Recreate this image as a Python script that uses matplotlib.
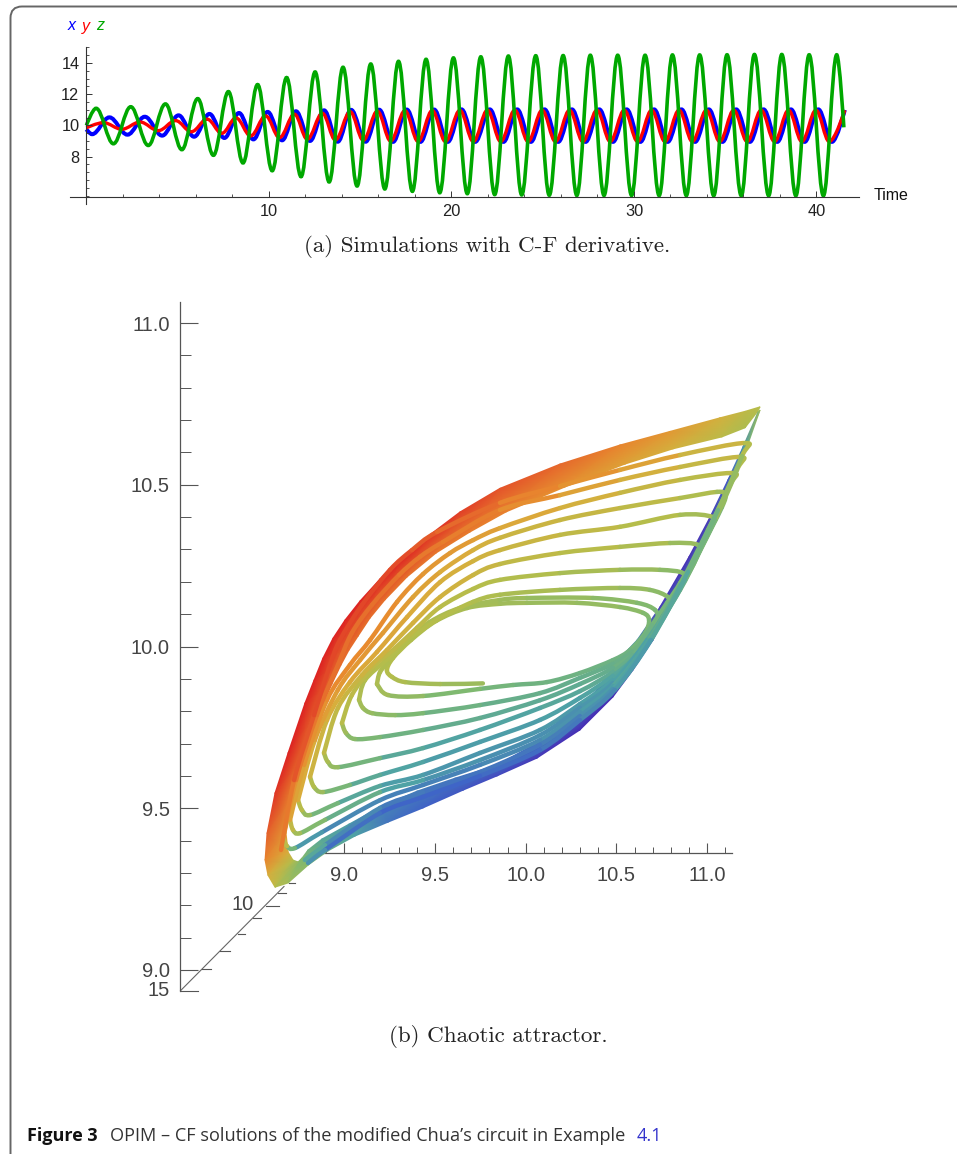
import matplotlib
matplotlib.use("Agg")
import matplotlib.pyplot as plt
import numpy as np
from matplotlib.collections import PathCollection
from matplotlib.colors import LinearSegmentedColormap, Normalize
from matplotlib.patches import PathPatch
from matplotlib.path import Path

plt.rcParams['font.family'] = ['Liberation Sans', 'DejaVu Sans']

# (a) extrema of the three time series
t_x = [0, .31, 1.26, 2.25, 3.2, 4.15, 5.05, 5.9, 6.74, 7.56, 8.36, 9.15, 9.93, 10.72, 11.48, 12.25, 13.02, 13.77, 14.5,
       15.3, 16.04, 16.8, 17.55, 18.3, 19.05, 19.8, 20.55, 21.3, 22.1, 22.85, 23.6, 24.35, 25.1, 25.85, 26.6, 27.35,
       28.1, 28.85, 29.6, 30.35, 31.1, 31.85, 32.6, 33.35, 34.1, 34.85, 35.6, 36.35, 37.1, 37.85, 38.6, 39.35, 40.1,
       40.85, 41.55]
v_x = [9.75, 9.44, 10.52, 9.41, 10.56, 9.35, 10.65, 9.28, 10.74, 9.2, 10.8, 9.11, 10.87, 9.05, 10.91, 9.01, 10.97, 8.96,
       11.0, 8.96, 11.01, 8.95, 11.02, 8.95, 11.02, 8.95, 11.03, 8.95, 11.03, 8.95, 11.03, 8.95, 11.03, 8.95, 11.03,
       8.95, 11.03, 8.95, 11.03, 8.95, 11.03, 8.95, 11.03, 8.95, 11.03, 8.95, 11.03, 8.95, 11.03, 8.95, 11.03, 8.95,
       11.03, 8.95, 11.0]
t_y = [0, .93, 1.94, 2.94, 3.94, 4.89, 5.75, 6.62, 7.42, 8.2, 9.0, 9.82, 10.58, 11.4, 12.1, 12.93, 13.64, 14.45, 15.17,
       15.94, 16.67, 17.45, 18.17, 18.95, 19.67, 20.46, 21.2, 21.97, 22.7, 23.47, 24.2, 24.97, 25.7, 26.47, 27.2, 27.97,
       28.7, 29.47, 30.2, 30.97, 31.7, 32.47, 33.2, 33.97, 34.7, 35.47, 36.2, 36.97, 37.7, 38.47, 39.2, 39.97, 40.7,
       41.55]
v_y = [9.85, 10.18, 9.76, 10.22, 9.67, 10.31, 9.6, 10.4, 9.5, 10.48, 9.33, 10.61, 9.22, 10.72, 9.12, 10.78, 9.07, 10.88,
       9.05, 10.92, 9.0, 10.95, 8.98, 10.96, 8.97, 10.97, 8.97, 10.98, 8.97, 10.98, 8.97, 10.98, 8.97, 10.98, 8.97,
       10.98, 8.97, 10.98, 8.97, 10.98, 8.97, 10.98, 8.97, 10.98, 8.97, 10.98, 8.97, 10.98, 8.97, 10.98, 8.97, 10.98,
       8.97, 10.98]
t_z = [0, .53, 1.48, 2.43, 3.39, 4.33, 5.23, 6.1, 6.96, 7.78, 8.58, 9.38, 10.18, 10.97, 11.76, 12.53, 13.3, 14.06, 14.83,
       15.58, 16.35, 17.1, 17.86, 18.61, 19.36, 20.11, 20.87, 21.61, 22.37, 23.12, 23.85, 24.62, 25.36, 26.12, 26.87,
       27.61, 28.36, 29.11, 29.87, 30.61, 31.38, 32.11, 32.87, 33.6, 34.37, 35.1, 35.88, 36.6, 37.38, 38.1, 38.87, 39.6,
       40.38, 41.11, 41.5]
v_z = [10, 11.1, 8.83, 11.2, 8.72, 11.38, 8.45, 11.72, 8.09, 12.17, 7.6, 12.62, 7.1, 13.07, 6.72, 13.43, 6.38, 13.73,
       6.12, 13.94, 5.93, 14.11, 5.78, 14.24, 5.69, 14.33, 5.63, 14.4, 5.57, 14.45, 5.55, 14.47, 5.53, 14.48, 5.52, 14.5,
       5.52, 14.5, 5.52, 14.5, 5.51, 14.52, 5.51, 14.52, 5.5, 14.53, 5.5, 14.55, 5.5, 14.55, 5.5, 14.53, 5.5, 14.53, 9.88]

# (b) single revolutions of the trajectory: x, y and the colour value along it
s1_x = [9.764, 9.528, 9.335, 9.263, 9.235, 9.268, 9.368, 9.506, 9.677, 9.858, 10.007, 10.283, 10.520, 10.647, 10.680,
        10.658, 10.575, 10.481, 10.299, 10.117, 9.930, 9.748, 9.434, 9.241, 9.180]
s1_y = [9.886, 9.884, 9.890, 9.906, 9.927, 9.964, 10.020, 10.079, 10.119, 10.132, 10.135, 10.135, 10.122, 10.104, 10.082,
        10.042, 9.989, 9.958, 9.918, 9.890, 9.881, 9.869, 9.847, 9.850, 9.884]
s1_c = [.52, .54, .57, .59, .6, .6, .59, .58, .56, .55, .53, .52, .5, .47, .45, .43, .41, .4, .4, .4, .41, .43, .47, .53, .57]
s2_x = [9.180, 9.197, 9.252, 9.346, 9.472, 9.638, 9.858, 10.007, 10.371, 10.614, 10.713, 10.724, 10.674, 10.586, 10.481,
        10.299, 10.079, 9.748, 9.434, 9.280, 9.153, 9.103, 9.081]
s2_y = [9.884, 9.921, 9.958, 10.020, 10.076, 10.119, 10.144, 10.150, 10.150, 10.135, 10.113, 10.082, 10.029, 9.983, 9.946,
        9.903, 9.856, 9.819, 9.794, 9.788, 9.794, 9.810, 9.835]
s2_c = [.57, .58, .59, .59, .58, .56, .54, .53, .5, .47, .45, .43, .41, .39, .38, .37, .37, .38, .42, .47, .5, .53, .57]
s3_x = [9.081, 9.114, 9.230, 9.335, 9.428, 9.528, 9.710, 9.858, 10.189, 10.520, 10.685, 10.784, 10.790, 10.740, 10.630,
        10.481, 10.299, 10.079, 9.748, 9.434, 9.197, 9.059, 9.009, 8.987]
s3_y = [9.835, 9.896, 9.958, 10.017, 10.051, 10.088, 10.138, 10.160, 10.175, 10.181, 10.175, 10.153, 10.126, 10.076, 9.995,
        9.934, 9.884, 9.834, 9.779, 9.742, 9.720, 9.714, 9.733, 9.763]
s3_c = [.57, .59, .6, .6, .6, .6, .59, .58, .56, .53, .5, .47, .45, .43, .41, .38, .36, .35, .35, .38, .42, .46, .5, .58]
s4_x = [8.987, 9.042, 9.153, 9.280, 9.401, 9.528, 9.710, 9.858, 10.189, 10.520, 10.740, 10.867, 10.851, 10.779, 10.696,
        10.591, 10.481, 10.299, 10.079, 9.748, 9.434, 9.197, 8.965, 8.910, 8.888]
s4_y = [9.763, 9.850, 9.934, 9.995, 10.058, 10.122, 10.178, 10.206, 10.227, 10.237, 10.237, 10.227, 10.196, 10.135, 10.066,
        9.974, 9.921, 9.862, 9.810, 9.742, 9.686, 9.655, 9.627, 9.643, 9.671]
s4_c = [.6, .62, .63, .63, .63, .62, .6, .6, .58, .55, .5, .47, .45, .43, .41, .39, .36, .34, .32, .3, .32, .35, .48, .54, .6]
s5_x = [8.888, 8.965, 9.098, 9.235, 9.379, 9.528, 9.710, 9.858, 10.189, 10.520, 10.796, 10.950, 10.944, 10.851, 10.740,
        10.613, 10.481, 10.299, 10.079, 9.748, 9.434, 9.197, 9.031, 8.882, 8.833, 8.811]
s5_y = [9.671, 9.810, 9.912, 9.989, 10.073, 10.153, 10.221, 10.255, 10.289, 10.308, 10.320, 10.314, 10.277, 10.175, 10.076,
        9.974, 9.909, 9.841, 9.773, 9.705, 9.643, 9.603, 9.572, 9.550, 9.566, 9.597]
s5_c = [.62, .65, .68, .69, .7, .7, .68, .65, .62, .6, .55, .5, .45, .4, .37, .34, .32, .3, .29, .28, .29, .32, .36, .5, .56, .62]
s6_x = [8.811, 8.905, 9.031, 9.180, 9.346, 9.528, 9.710, 9.858, 10.189, 10.520, 10.851, 11.033, 11.022, 10.917, 10.796,
        10.658, 10.481, 10.299, 10.079, 9.748, 9.434, 9.197, 8.965, 8.811, 8.767, 8.745]
s6_y = [9.597, 9.773, 9.890, 9.983, 10.091, 10.199, 10.264, 10.298, 10.345, 10.370, 10.407, 10.400, 10.370, 10.252, 10.129,
        10.005, 9.896, 9.822, 9.742, 9.671, 9.603, 9.569, 9.516, 9.479, 9.494, 9.525]
s6_c = [.66, .7, .73, .74, .74, .72, .7, .68, .65, .62, .58, .53, .48, .42, .37, .33, .3, .28, .27, .26, .27, .3, .36, .48, .56, .66]
s7_x = [8.745, 8.838, 8.965, 9.087, 9.213, 9.379, 9.528, 9.710, 9.858, 10.189, 10.520, 10.851, 11.055, 11.099, 11.082,
        10.961, 10.823, 10.669, 10.481, 10.299, 10.079, 9.748, 9.434, 9.197, 8.894, 8.756, 8.717, 8.701]
s7_y = [9.525, 9.711, 9.866, 9.958, 10.042, 10.153, 10.230, 10.298, 10.336, 10.391, 10.428, 10.459, 10.478, 10.469, 10.431,
        10.298, 10.153, 10.020, 9.887, 9.810, 9.726, 9.649, 9.587, 9.550, 9.464, 9.423, 9.433, 9.464]
s7_c = [.7, .75, .78, .78, .78, .76, .74, .72, .68, .66, .65, .6, .57, .52, .46, .4, .35, .31, .28, .25, .24, .25, .27, .33, .42, .5,
        .6, .68]
s8_x = [8.701, 8.778, 8.905, 9.031, 9.142, 9.291, 9.434, 9.583, 9.710, 9.858, 10.189, 10.520, 10.851, 11.143, 11.126,
        11.005, 10.851, 10.680, 10.481, 10.299, 10.079, 9.748, 9.434, 9.197, 8.877, 8.728, 8.684, 8.662]
s8_y = [9.464, 9.634, 9.835, 9.943, 10.020, 10.138, 10.224, 10.289, 10.329, 10.366, 10.428, 10.475, 10.515, 10.536, 10.499,
        10.360, 10.190, 10.020, 9.878, 9.798, 9.711, 9.634, 9.572, 9.525, 9.426, 9.377, 9.383, 9.411]
s8_c = [.72, .78, .82, .82, .82, .81, .79, .78, .77, .75, .72, .68, .63, .6, .55, .48, .4, .35, .3, .27, .24, .22, .2, .21, .24, .3,
        .55, .7]
s9_x = [8.662, 8.734, 8.849, 8.965, 9.042, 9.153, 9.302, 9.417, 9.544, 9.858, 10.189, 10.520, 10.851, 11.182, 11.165,
        11.044, 10.879, 10.685, 10.481, 10.299, 10.079, 9.748, 9.434, 9.197, 8.894, 8.783]
s9_y = [9.411, 9.587, 9.788, 9.943, 10.042, 10.129, 10.221, 10.277, 10.323, 10.422, 10.468, 10.515, 10.555, 10.586, 10.546,
        10.391, 10.206, 10.020, 9.869, 9.785, 9.696, 9.612, 9.550, 9.501, 9.386, 9.340]
s9_c = [.76, .84, .87, .87, .87, .87, .86, .85, .85, .83, .78, .72, .68, .62, .56, .48, .38, .33, .28, .22, .18, .17, .17, .2, .26, .4]
s10_x = [8.651, 8.723, 8.833, 8.921, 8.976, 9.098, 9.252, 9.373, 9.511, 9.858, 10.189, 10.520, 10.851, 11.209, 11.193,
         11.060, 10.895, 10.691, 10.492, 10.299, 10.079, 9.748, 9.434, 9.197, 8.894, 8.800]
s10_y = [9.371, 9.587, 9.788, 9.943, 10.020, 10.129, 10.237, 10.298, 10.354, 10.444, 10.496, 10.546, 10.592, 10.629, 10.589,
         10.422, 10.231, 10.020, 9.866, 9.773, 9.680, 9.600, 9.535, 9.485, 9.371, 9.331]
s10_c = [.8, .9, .93, .94, .94, .94, .94, .92, .9, .85, .81, .78, .72, .63, .56, .46, .36, .3, .26, .2, .16, .13, .12, .13, .18, .32]

# (b) the densely filled outer ribbon: outer and inner edge with colour values
rib_out_x = [11.292, 11.209, 11.071, 10.796, 10.520, 10.189, 9.858, 9.638, 9.456, 9.307, 9.197, 9.087, 9.004, 8.938, 8.882,
             8.833, 8.783, 8.690, 8.618, 8.574, 8.563, 8.579, 8.618, 8.690, 8.800, 8.910, 9.059, 9.241, 9.434, 9.655, 9.842,
             10.062, 10.299, 10.481, 10.591, 10.702, 10.796, 10.945, 11.055, 11.143, 11.220, 11.292]
rib_out_y = [10.741, 10.727, 10.707, 10.665, 10.623, 10.564, 10.489, 10.416, 10.339, 10.267, 10.209, 10.141, 10.082, 10.026,
             9.964, 9.896, 9.825, 9.671, 9.547, 9.423, 9.340, 9.293, 9.256, 9.269, 9.324, 9.368, 9.414, 9.457, 9.501, 9.556,
             9.600, 9.655, 9.742, 9.844, 9.927, 10.020, 10.122, 10.277, 10.400, 10.515, 10.617, 10.731]
rib_out_c = [.6, .63, .7, .78, .83, .88, .92, .95, .98, 1, 1, 1, 1, 1, 1, 1, 1, 1, .97, .9, .83, .72, .62, .55, .48, .38, .3, .17,
             .12, .1, .08, .05, .03, .03, .03, .05, .18, .22, .25, .3, .4, .55]
rib_in_x = [11.281, 11.209, 11.082, 10.812, 10.548, 10.216, 9.892, 9.693, 9.506, 9.346, 9.224, 9.142, 9.076, 9.026, 8.982,
            8.932, 8.877, 8.789, 8.723, 8.679, 8.690, 8.717, 8.745, 8.767, 8.800, 8.877, 9.026, 9.208, 9.401, 9.610, 9.842,
            10.062, 10.255, 10.410, 10.509, 10.614, 10.740, 10.900, 11.016, 11.115, 11.198, 11.281]
rib_in_y = [10.728, 10.676, 10.648, 10.611, 10.564, 10.493, 10.416, 10.354, 10.289, 10.215, 10.144, 10.088, 10.032, 9.989,
            9.943, 9.884, 9.816, 9.665, 9.541, 9.423, 9.365, 9.340, 9.334, 9.346, 9.371, 9.405, 9.451, 9.507, 9.553, 9.593,
            9.634, 9.702, 9.779, 9.878, 9.958, 10.020, 10.122, 10.277, 10.400, 10.515, 10.617, 10.725]
rib_in_c = [.6, .58, .62, .7, .75, .8, .83, .84, .85, .86, .86, .87, .87, .87, .87, .87, .87, .85, .82, .78, .72, .6, .5, .45, .4,
            .33, .28, .22, .2, .18, .16, .15, .15, .18, .22, .28, .05, .03, .05, .1, .25, .5]

rainbow = LinearSegmentedColormap.from_list('rainbow_m', [
    (0, '#4a1cae'), (.12, '#3f63c8'), (.3, '#4fa3a5'), (.45, '#7fb970'), (.6, '#b5bd4b'),
    (.72, '#d8ae3c'), (.82, '#e88a2e'), (.92, '#e4542a'), (1, '#dd2222')])
norm = Normalize(0, 1)


def wave_path(t, v):
    # flat handles at every extremum, no handle at the two ends
    verts = [(t[0], v[0])]
    codes = [Path.MOVETO]
    for i in range(len(t) - 1):
        h = .364 * (t[i + 1] - t[i])
        h0 = 0 if i == 0 else h
        h1 = 0 if i == len(t) - 2 else h
        verts += [(t[i] + h0, v[i]), (t[i + 1] - h1, v[i + 1]), (t[i + 1], v[i + 1])]
        codes += [Path.CURVE4] * 3
    return Path(verts, codes)


def strand(ax, xs, ys, cs):
    pts = np.column_stack([xs, ys])
    paths, colors = [], []
    for i, c0, c1 in zip(range(len(pts) - 1), cs[:-1], cs[1:], strict=True):
        p0, p1, p2, p3 = pts[max(i - 1, 0)], pts[i], pts[i + 1], pts[min(i + 2, len(pts) - 1)]
        paths.append(Path([p1, p1 + (p2 - p0) / 6, p2 - (p3 - p1) / 6, p2],
                          [Path.MOVETO, Path.CURVE4, Path.CURVE4, Path.CURVE4]))
        colors.append(rainbow(norm((c0 + c1) / 2)))
    coll = PathCollection(paths, facecolors='none', edgecolors=colors, linewidths=3.2,
                          capstyle='round', zorder=5, transform=ax.transData)
    ax.add_collection(coll, autolim=False)


fig = plt.figure(figsize=(9.57, 11.54), dpi=100)

# overlay in picture pixels for the frame, captions and the slanted third axis
bg = fig.add_axes([0, 0, 1, 1])
bg.set_xlim(0, 957)
bg.set_ylim(1154, 0)
bg.axis('off')
frame = Path([(10.5, 1154), (10.5, 18), (10.5, 6.5), (22, 6.5), (957, 6.5)],
             [Path.MOVETO, Path.LINETO, Path.CURVE3, Path.CURVE3, Path.LINETO])
bg.add_patch(PathPatch(frame, fc='none', ec='#666666', lw=1.4))

bg.plot([180.5, 284], [990.7, 886.5], color='#666666', lw=.8)
slant_ticks = [(180.5, 198, 990.7), (201.5, 211, 969), (220, 230, 950.7), (238, 245, 933.7), (253, 261, 917.7),
               (266.4, 279, 905.7), (278, 285.5, 893), (289, 295, 882.7)]
for x0, x1, yy in slant_ticks:
    bg.plot([x0, x1], [yy, yy], color='#555555', lw=.8)
bg.text(170, 990.5, '15', ha='right', va='center', fontsize=14.5, color='#444444')
bg.text(254, 905, '10', ha='right', va='center', fontsize=14.5, color='#444444')

for xx, s, col in [(68, 'x', '#0000ff'), (82, 'y', '#ff0000'), (96, 'z', '#00a800')]:
    bg.text(xx, 26, s, color=col, style='italic', fontsize=11.5, va='center')
bg.text(874, 196, 'Time', fontsize=11.5, va='center', color='#111111')

bg.text(487, 246, '(a) Simulations with C-F derivative.', family='cmr10', fontsize=16.6, ha='center', va='center',
        color='#222222')
bg.text(498, 1036, '(b) Chaotic attractor.', family='cmr10', fontsize=16.6, ha='center', va='center',
        color='#222222')
bg.text(27, 1136, 'Figure 3', family='Open Sans', fontweight='bold', fontsize=13, va='center', color='#111111')
bg.text(110, 1136, 'OPIM \u2013 CF solutions of the modified Chua\u2019s circuit in Example', family='Open Sans',
        fontsize=13.1, va='center', color='#333333')
bg.text(637, 1136, '4.1', family='Open Sans', fontsize=13, va='center', color='#3333cc')

# (a) time series
ax_a = fig.add_axes([70 / 957, 1 - 204 / 1154, 789 / 957, 156.7 / 1154])
ax_a.patch.set_alpha(0)
ax_a.set_xlim(-.899, 42.33)
ax_a.set_ylim(4.968, 15.01)
for t, v, col, lw in [(t_x, v_x, '#0000ff', 2.9), (t_y, v_y, '#ff0000', 2.4), (t_z, v_z, '#00a800', 2.6)]:
    ax_a.add_patch(PathPatch(wave_path(t, v), fc='none', ec=col, lw=lw, capstyle='butt'))
for s in ['top', 'right']:
    ax_a.spines[s].set_visible(False)
ax_a.spines['bottom'].set_position(('data', 5.436))
ax_a.spines['left'].set_position(('data', 0))
ax_a.spines['left'].set_linewidth(.8)
ax_a.spines['bottom'].set_linewidth(.8)
ax_a.spines['left'].set_color('#333333')
ax_a.spines['bottom'].set_color('#333333')
ax_a.set_xticks([10, 20, 30, 40])
ax_a.set_xticks(np.arange(2, 42, 2), minor=True)
ax_a.set_yticks([8, 10, 12, 14])
ax_a.set_yticks(np.arange(5.5, 15.5, .5), minor=True)
ax_a.tick_params(which='major', direction='in', length=4, width=.7, color='#333333', labelsize=11.8, pad=5,
                 labelcolor='#222222')
ax_a.tick_params(which='minor', direction='in', length=2.4, width=.6, color='#333333')

# (b) attractor
ax_b = fig.add_axes([179.5 / 957, 1 - 990.7 / 1154, 600.5 / 957, 688.7 / 1154])
ax_b.patch.set_alpha(0)
ax_b.set_xlim(8.0915, 11.402)
ax_b.set_ylim(8.936, 11.065)
mesh_x = np.array([rib_out_x, rib_in_x])
mesh_y = np.array([rib_out_y, rib_in_y])
mesh_c = np.array([rib_out_c, rib_in_c])
ax_b.pcolormesh(mesh_x, mesh_y, mesh_c, shading='gouraud', cmap=rainbow, norm=norm, zorder=4)
strands = [(s1_x, s1_y, s1_c), (s2_x, s2_y, s2_c), (s3_x, s3_y, s3_c), (s4_x, s4_y, s4_c), (s5_x, s5_y, s5_c),
           (s6_x, s6_y, s6_c), (s7_x, s7_y, s7_c), (s8_x, s8_y, s8_c), (s9_x, s9_y, s9_c), (s10_x, s10_y, s10_c)]
for xs, ys, cs in strands:
    strand(ax_b, xs, ys, cs)
for s in ['top', 'right']:
    ax_b.spines[s].set_visible(False)
ax_b.spines['bottom'].set_position(('data', 9.362))
ax_b.spines['bottom'].set_bounds(8.85, 11.137)
ax_b.spines['left'].set_linewidth(.9)
ax_b.spines['bottom'].set_linewidth(.9)
ax_b.spines['left'].set_color('#555555')
ax_b.spines['bottom'].set_color('#555555')
ax_b.set_xticks([9, 9.5, 10, 10.5, 11])
ax_b.set_xticklabels(['9.0', '9.5', '10.0', '10.5', '11.0'])
ax_b.set_xticks(np.arange(8.9, 11.15, .1), minor=True)
ax_b.set_yticks([9, 9.5, 10, 10.5, 11])
ax_b.set_yticklabels(['9.0', '9.5', '10.0', '10.5', '11.0'])
ax_b.set_yticks(np.arange(9, 11.05, .1), minor=True)
ax_b.tick_params(axis='x', which='major', direction='in', length=7, width=.8, color='#555555', labelsize=14.5, pad=9.5,
                 labelcolor='#444444')
ax_b.tick_params(axis='x', which='minor', direction='in', length=4.2, width=.7, color='#555555')
ax_b.tick_params(axis='y', which='major', direction='in', length=13, width=.8, color='#555555', labelsize=14.5, pad=7,
                 labelcolor='#444444')
ax_b.tick_params(axis='y', which='minor', direction='in', length=8, width=.7, color='#555555')

fig.savefig('out.png', dpi=100)
